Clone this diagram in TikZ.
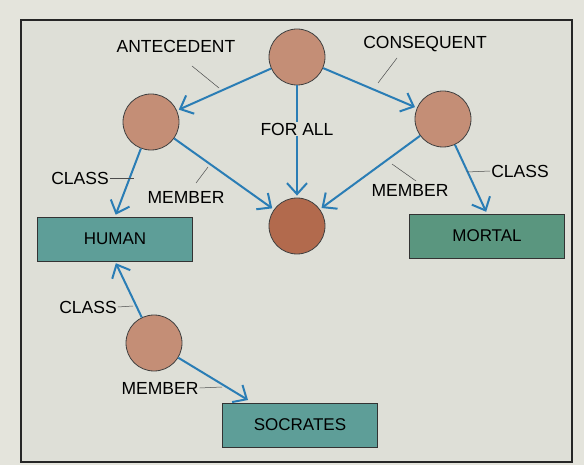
\documentclass[tikz,border=0pt]{standalone}
\usepackage{fontspec}
\setmainfont{Liberation Sans}
\usetikzlibrary{arrows.meta}
\definecolor{paper}{HTML}{E4E4DC}
\definecolor{panel}{HTML}{DEDFD7}
\definecolor{rosy}{HTML}{C48E76}
\definecolor{rust}{HTML}{B26A4D}
\definecolor{tealbox}{HTML}{5E9E98}
\definecolor{greenbox}{HTML}{5A967F}
\definecolor{linkblue}{HTML}{2A7DB5}
\tikzset{
  concept/.style={circle,draw=black!75,fill=rosy,minimum size=56pt,inner sep=0pt,line width=.8pt},
  classbox/.style={draw=black!80,fill=tealbox,minimum width=155pt,minimum height=44pt,line width=.8pt,font=\fontsize{17}{17}\selectfont},
  tag/.style={font=\fontsize{17.5}{17}\selectfont,inner sep=1pt},
  link/.style={->,draw=linkblue,line width=2pt,shorten >=2pt},
  pointer/.style={draw=black!70,line width=.5pt}
}
\begin{document}
\begin{tikzpicture}[x=1pt,y=-1pt,>={Straight Barb[length=11pt,width=20pt,line width=2pt]}]
\useasboundingbox (0,0) rectangle (584,465);
\fill[paper] (0,0) rectangle (584,465);
\draw[fill=panel,line width=1.2pt,draw=black!85] (21,20) rectangle (572,462);
% concepts
\node[concept] (forall) at (297,57) {};
\node[concept] (ante) at (151,122) {};
\node[concept] (cons) at (443,119) {};
\node[concept,fill=rust] (x) at (297,226) {};
\node[concept] (inst) at (154,343) {};
% classes
\node[classbox] (human) at (115,239) {HUMAN};
\node[classbox,fill=greenbox] (mortal) at (487,236) {MORTAL};
\node[classbox] (socrates) at (300,425) {SOCRATES};
\coordinate (stop) at (248,400);
% links
\draw[link] (forall) -- (ante);
\draw[link] (forall) -- (cons);
\node[tag] (fa) at (297,129) {FOR ALL};
\draw[linkblue,line width=2pt] (forall) -- (fa);
\draw[link] (fa) -- (x);
\draw[link] (ante) -- (x);
\draw[link] (cons) -- (x);
\draw[link] (ante) -- (human.north);
\draw[link] (cons) -- (mortal.north);
\draw[link] (inst) -- (human.south);
\draw[link,shorten >=0pt] (inst) -- (stop);
% labels
\node[tag] (lante) at (176,46) {ANTECEDENT};
\node[tag] (lcons) at (425,44) {CONSEQUENT};
\node[tag] (lclass1) at (80,178) {CLASS};
\node[tag] (lmem1) at (186,197) {MEMBER};
\node[tag] (lmem2) at (410,190) {MEMBER};
\node[tag] (lclass2) at (520,171) {CLASS};
\node[tag] (lclass3) at (88,307) {CLASS};
\node[tag] (lmem3) at (160,388) {MEMBER};
\draw[pointer] (192,66) -- (219,88);
\draw[pointer] (397,58) -- (378,83);
\draw[pointer] (lclass1.east) -- (134,178);
\draw[pointer] (196,183) -- (208,167);
\draw[pointer] (392,164) -- (416,181);
\draw[pointer] (467,172) -- (lclass2.west);
\draw[pointer] (lclass3.east) -- (133,306);
\draw[pointer] (lmem3.east) -- (222,387);
\end{tikzpicture}
\end{document}
